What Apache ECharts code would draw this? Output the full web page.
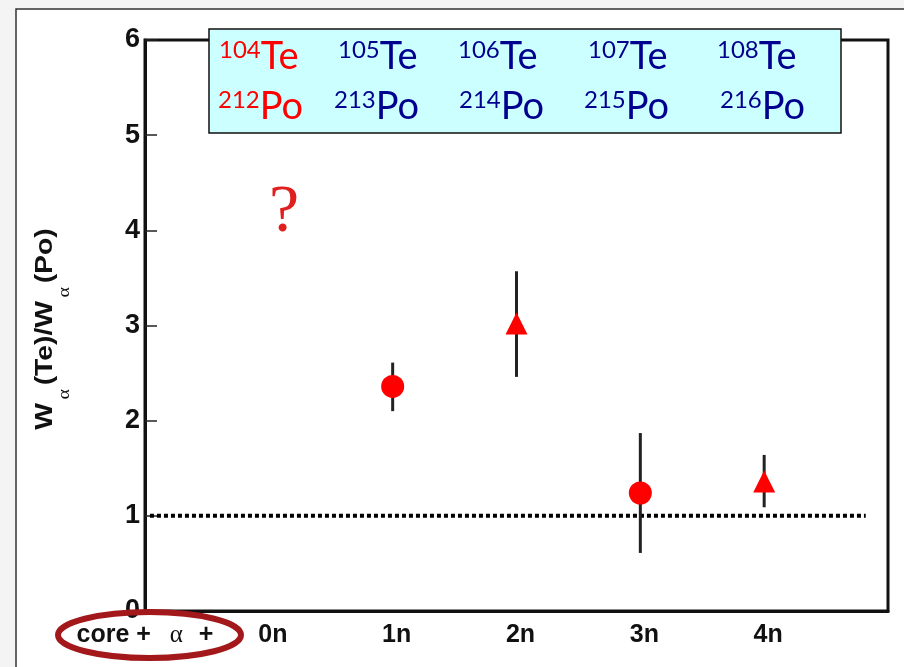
<!DOCTYPE html>
<html>
<head>
<meta charset="utf-8">
<script src="https://cdn.jsdelivr.net/npm/echarts@6/dist/echarts.min.js"></script>
<style>
  html, body { margin: 0; padding: 0; background: #f4f4f4; }
  #chart { width: 904px; height: 667px; }
</style>
</head>
<body>
<div id="chart"></div>
<script>
// x positions: 0 = "core + α +", 1..5 = 0n..4n
const xLabels = ['core + α +', '0n', '1n', '2n', '3n', '4n'];
const yTicks = [0, 1, 2, 3, 4, 5, 6];

// Ratio W_α(Te)/W_α(Po) for core + α + xn
const pointX    = [2, 3, 4, 5];
const ratio     = [2.36, 3.02, 1.24, 1.36];
const ratioLow  = [2.10, 2.46, 0.61, 1.09];
const ratioHigh = [2.61, 3.57, 1.87, 1.64];
const markerShape = ['circle', 'triangle', 'circle', 'triangle'];

// Reference level W_α(Te) = W_α(Po)
const refLine = [[0.04, 1], [5.82, 1]];

// Isotope pairs shown in the header box
const teMass = ['104', '105', '106', '107', '108'];
const poMass = ['212', '213', '214', '215', '216'];

const RED = '#ff0000';
const NAVY = '#00008f';
const AXIS = '#111';

const chart = echarts.init(document.getElementById('chart'), null, { renderer: 'canvas' });

// header box layout
const teColX = [219, 338, 458, 588, 717];
const poColX = [218, 334, 459, 584, 720];
function isotopeText(mass, sym, x, y, color) {
  return {
    type: 'text', x: x, y: y, z: 120,
    style: {
      text: '{s|' + mass + '}{m|' + sym + '}',
      align: 'left', verticalAlign: 'top',
      rich: {
        s: { fontSize: 24, fontFamily: 'Lato', fill: color, lineHeight: 25, verticalAlign: 'top' },
        m: { fontSize: 38, fontFamily: 'Lato', fill: color, lineHeight: 44, verticalAlign: 'top' }
      }
    }
  };
}
const headerTexts = [];
teMass.forEach((m, i) => headerTexts.push(isotopeText(m, 'Te', teColX[i], 38, i === 0 ? RED : NAVY)));
poMass.forEach((m, i) => headerTexts.push(isotopeText(m, 'Po', poColX[i], 88, i === 0 ? RED : NAVY)));

const option = {
  backgroundColor: '#f4f4f4',
  animation: false,
  grid: { left: 145, right: 16, top: 40, bottom: 56, show: true, borderColor: AXIS, borderWidth: 3, backgroundColor: 'transparent' },
  xAxis: {
    type: 'value', min: 0, max: 6, interval: 1,
    axisLine: { show: true, lineStyle: { color: AXIS, width: 3 } },
    axisTick: { show: false },
    splitLine: { show: false },
    axisLabel: {
      margin: 12,
      formatter: v => {
        const t = xLabels[v];
        if (t == null) return '';
        if (t.indexOf('α') < 0) return '{n|' + t + '}';
        return t.split('α').map(p => p ? '{c|' + p + '}' : '').join('{g|α}');
      },
      rich: {
        c: { fontSize: 25, fontWeight: 'bold', fontFamily: 'Liberation Sans', color: '#111' },
        n: { fontSize: 25, fontWeight: 'bold', fontFamily: 'Liberation Sans', color: '#111', padding: [0, 0, 0, 8] },
        g: { fontSize: 25, fontFamily: 'Liberation Serif', color: '#111', padding: [0, 9, 0, 12] }
      }
    }
  },
  yAxis: {
    type: 'value', min: yTicks[0], max: yTicks[yTicks.length - 1], interval: 1,
    axisLine: { show: true, lineStyle: { color: AXIS, width: 3 } },
    axisTick: { show: true, inside: true, length: 12, lineStyle: { color: '#222', width: 1.5 } },
    splitLine: { show: false },
    axisLabel: { margin: 5, fontSize: 27, fontWeight: 'bold', fontFamily: 'Liberation Sans', color: '#111' }
  },
  series: [
    {
      type: 'line', data: refLine, symbol: 'none', silent: true, z: 2,
      lineStyle: { color: '#000', width: 4, type: [4, 3] }
    },
    {
      type: 'custom', z: 3, silent: true,
      data: pointX.map((x, i) => [x, ratioLow[i], ratioHigh[i]]),
      encode: { x: 0, y: [1, 2] },
      renderItem: (params, api) => {
        const lo = api.coord([api.value(0), api.value(1)]);
        const hi = api.coord([api.value(0), api.value(2)]);
        return { type: 'line', shape: { x1: lo[0], y1: lo[1], x2: hi[0], y2: hi[1] }, style: { stroke: '#222', lineWidth: 3 } };
      }
    },
    {
      type: 'scatter', z: 4, silent: true,
      data: pointX.map((x, i) => ({
        value: [x, ratio[i]],
        symbol: markerShape[i],
        symbolSize: markerShape[i] === 'circle' ? 23 : [22, 22]
      })),
      itemStyle: { color: RED, opacity: 1 }
    }
  ],
  graphic: [
    // white page panel
    { type: 'rect', z: -10, shape: { x: 16, y: 9, width: 910, height: 680 }, style: { fill: '#fff', stroke: '#333', lineWidth: 1.5 } },
    // header box
    { type: 'rect', z: 110, shape: { x: 209, y: 29, width: 632, height: 104 }, style: { fill: '#ccffff', stroke: '#111', lineWidth: 1.5 } },
    ...headerTexts,
    // question mark for 0n
    { type: 'text', z: 50, x: 284, y: 213, style: { text: '?', font: '68px "Liberation Serif"', fill: '#e0201e', align: 'center', verticalAlign: 'middle' } },
    // y-axis title, subscripts dropped below the baseline
    {
      type: 'text', z: 50, x: 33, y: 329, rotation: Math.PI / 2, scaleX: 1.18,
      style: {
        text: '{b|W}{a|α}{b|(Te)/W}{a|α}{b|(Po)}',
        align: 'center', verticalAlign: 'top',
        rich: {
          b: { fontSize: 24, fontWeight: 'bold', fontFamily: 'Liberation Sans', fill: '#111', lineHeight: 24, verticalAlign: 'top' },
          a: { fontSize: 17, fontFamily: 'Liberation Serif', fill: '#111', lineHeight: 40.5, verticalAlign: 'bottom', padding: [0, 3, 0, 3] }
        }
      }
    },
    // highlight ring round the core label
    { type: 'ellipse', z: 120, shape: { cx: 149.5, cy: 635, rx: 91.5, ry: 23 }, style: { fill: 'none', stroke: '#a3191b', lineWidth: 6 } }
  ]
};
chart.setOption(option);
</script>
</body>
</html>
